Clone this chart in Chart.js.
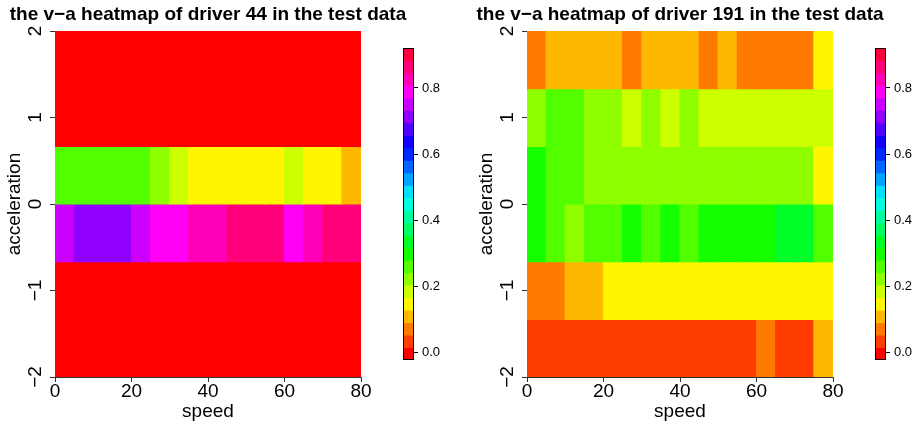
<!DOCTYPE html>
<html>
<head>
<meta charset="utf-8">
<script src="https://cdn.jsdelivr.net/npm/chart.js@4.4.1/dist/chart.umd.min.js"></script>
<style>
  html, body { margin: 0; padding: 0; background: #fff; }
  #wrap { position: relative; width: 920px; height: 427px; overflow: hidden; }
  canvas { position: absolute; top: 0; }
</style>
</head>
<body>
<div id="wrap">
  <canvas id="heat44" width="416" height="427" style="left:0px"></canvas>
  <canvas id="legend44" width="53" height="427" style="left:395px"></canvas>
  <canvas id="heat191" width="416" height="427" style="left:472px"></canvas>
  <canvas id="legend191" width="53" height="427" style="left:867px"></canvas>
</div>
<script>
// bin edges of the grid
const speedEdges = [0, 5, 10, 15, 20, 25, 30, 35, 40, 45, 50, 55, 60, 65, 70, 75, 80];
const accelEdges = [-2, -1.333, -0.667, 0, 0.667, 1.333, 2];

// tick labels
const speedTicks = [0, 20, 40, 60, 80];
const accelTicks = [-2, -1, 0, 1, 2];
const legendTicks = [0, 0.2, 0.4, 0.6, 0.8];

// colour scale (zlim and number of rainbow colours)
const zLimits = [-0.023, 0.921];
const nColors = 25;

// cell values, rows from bottom (a = -2) to top (a = 2), 16 speed bins each
const driver44 = [
    [0, 0, 0, 0, 0, 0, 0, 0, 0, 0, 0, 0, 0, 0, 0, 0],
    [0, 0, 0, 0, 0, 0, 0, 0, 0, 0, 0, 0, 0, 0, 0, 0],
    [0.751, 0.713, 0.713, 0.713, 0.751, 0.789, 0.789, 0.827, 0.827, 0.864, 0.864, 0.864, 0.789, 0.827, 0.864, 0.864],
    [0.26, 0.26, 0.26, 0.26, 0.26, 0.222, 0.185, 0.147, 0.147, 0.147, 0.147, 0.147, 0.185, 0.147, 0.147, 0.109],
    [0, 0, 0, 0, 0, 0, 0, 0, 0, 0, 0, 0, 0, 0, 0, 0],
    [0, 0, 0, 0, 0, 0, 0, 0, 0, 0, 0, 0, 0, 0, 0, 0]
];

const driver191 = [
    [0.034, 0.034, 0.034, 0.034, 0.034, 0.034, 0.034, 0.034, 0.034, 0.034, 0.034, 0.034, 0.071, 0.034, 0.034, 0.109],
    [0.071, 0.071, 0.109, 0.109, 0.147, 0.147, 0.147, 0.147, 0.147, 0.147, 0.147, 0.147, 0.147, 0.147, 0.147, 0.147],
    [0.298, 0.26, 0.222, 0.26, 0.26, 0.298, 0.26, 0.298, 0.26, 0.298, 0.298, 0.298, 0.298, 0.336, 0.336, 0.26],
    [0.298, 0.26, 0.26, 0.222, 0.222, 0.222, 0.222, 0.222, 0.222, 0.222, 0.222, 0.222, 0.222, 0.222, 0.222, 0.147],
    [0.222, 0.26, 0.26, 0.222, 0.222, 0.185, 0.222, 0.185, 0.222, 0.185, 0.185, 0.185, 0.185, 0.185, 0.185, 0.185],
    [0.071, 0.109, 0.109, 0.109, 0.109, 0.071, 0.109, 0.109, 0.109, 0.071, 0.109, 0.071, 0.071, 0.071, 0.071, 0.147]
];

const FONT = "'Liberation Sans', Arial, Helvetica, sans-serif";
Chart.defaults.font.family = FONT;
Chart.defaults.color = '#000';

// R rainbow(n): hues 0 .. (n-1)/n of the circle
function colorIndex(v) {
    const [lo, hi] = zLimits;
    const k = Math.floor((v - lo) / (hi - lo) * nColors);
    return Math.min(nColors - 1, Math.max(0, k));
}
function paletteColor(k) {
    return `hsl(${k * 360 / nColors}, 100%, 50%)`;
}

function minusLabel(v) {
    return v < 0 ? '\u2212' + Math.abs(v) : String(v);
}

function buildCells(matrix) {
    const cells = [], colors = [];
    matrix.forEach((row, r) => {
        const yMid = (accelEdges[r] + accelEdges[r + 1]) / 2;
        row.forEach((v, c) => {
            cells.push({ x: [speedEdges[c], speedEdges[c + 1]], y: yMid });
            colors.push(paletteColor(colorIndex(v)));
        });
    });
    return { cells, colors };
}

function makeHeatmap(id, title, matrix) {
    const { cells, colors } = buildCells(matrix);
    return new Chart(document.getElementById(id), {
        type: 'bar',
        data: {
            datasets: [{
                data: cells,
                backgroundColor: colors,
                borderWidth: 0,
                inflateAmount: 0.6,
                barPercentage: 1,
                categoryPercentage: 1
            }]
        },
        options: {
            indexAxis: 'y',
            responsive: false,
            animation: false,
            layout: { padding: 0 },
            plugins: {
                legend: { display: false },
                tooltip: { enabled: false },
                title: {
                    display: true,
                    text: title,
                    color: '#000',
                    font: { size: 19, weight: 'bold', lineHeight: 1.2 },
                    padding: { top: 3.7, bottom: 4.5 }
                }
            },
            scales: {
                x: {
                    type: 'linear',
                    position: 'bottom',
                    min: 0,
                    max: 80,
                    z: 1,
                    afterBuildTicks: s => { s.ticks = speedTicks.map(v => ({ value: v })); },
                    afterFit: s => { s.height = 50; },
                    grid: { drawOnChartArea: false, drawTicks: true, tickLength: 5, color: '#333' },
                    border: { display: true, color: '#333', width: 1 },
                    ticks: { font: { size: 19 }, color: '#000', padding: -2, maxRotation: 0, autoSkip: false },
                    title: { display: true, text: 'speed', color: '#000', font: { size: 19 }, padding: { top: 0, bottom: 4.2 } }
                },
                y: {
                    type: 'linear',
                    position: 'left',
                    min: -2,
                    max: 2,
                    offset: false,
                    z: 1,
                    afterBuildTicks: s => { s.ticks = accelTicks.map(v => ({ value: v })); },
                    afterFit: s => { s.width = 55; },
                    grid: { offset: false, drawOnChartArea: false, drawTicks: true, tickLength: 5, color: '#333' },
                    border: { display: true, color: '#333', width: 1 },
                    ticks: {
                        font: { size: 19 }, color: '#000', padding: 3,
                        minRotation: 90, maxRotation: 90, crossAlign: 'center', autoSkip: false,
                        callback: v => minusLabel(v)
                    },
                    title: { display: true, text: 'acceleration', color: '#000', font: { size: 19 }, padding: { top: 3, bottom: 0 } }
                },
                // empty right-hand margin so the title stays centred over the plot
                margin: {
                    type: 'linear',
                    position: 'right',
                    display: true,
                    grid: { display: false },
                    border: { display: false },
                    ticks: { display: false },
                    afterFit: s => { s.width = 55; }
                }
            }
        }
    });
}

// black frame around the colour bar
const frameBox = {
    id: 'frameBox',
    afterDraw(chart) {
        const a = chart.chartArea, ctx = chart.ctx;
        ctx.save();
        ctx.strokeStyle = '#000';
        ctx.lineWidth = 1;
        ctx.strokeRect(a.left + 0.5, a.top + 0.5, a.right - a.left - 1, a.bottom - a.top - 1);
        ctx.restore();
    }
};

function makeLegend(id) {
    const [lo, hi] = zLimits;
    const step = (hi - lo) / nColors;
    const bars = [], colors = [];
    for (let k = 0; k < nColors; k++) {
        bars.push({ x: 'z', y: [lo + k * step, lo + (k + 1) * step] });
        colors.push(paletteColor(k));
    }
    return new Chart(document.getElementById(id), {
        type: 'bar',
        data: {
            labels: ['z'],
            datasets: [{ data: bars, backgroundColor: colors, borderWidth: 0, inflateAmount: 0.5, barPercentage: 1, categoryPercentage: 1 }]
        },
        options: {
            responsive: false,
            animation: false,
            layout: { padding: { left: 8, right: 0, top: 48, bottom: 67 } },
            plugins: { legend: { display: false }, tooltip: { enabled: false } },
            scales: {
                x: { type: 'category', display: false },
                y: {
                    type: 'linear',
                    position: 'right',
                    min: lo,
                    max: hi,
                    afterBuildTicks: s => { s.ticks = legendTicks.map(v => ({ value: v })); },
                    afterFit: s => { s.width = 34; },
                    grid: { drawOnChartArea: false, drawTicks: true, tickLength: 4, color: '#000' },
                    border: { display: false },
                    ticks: { font: { size: 13 }, color: '#000', padding: 4, autoSkip: false, callback: v => v.toFixed(1) }
                }
            }
        },
        plugins: [frameBox]
    });
}

makeHeatmap('heat44', 'the v\u2212a heatmap of driver 44 in the test data', driver44);
makeLegend('legend44');
makeHeatmap('heat191', 'the v\u2212a heatmap of driver 191 in the test data', driver191);
makeLegend('legend191');
</script>
</body>
</html>
